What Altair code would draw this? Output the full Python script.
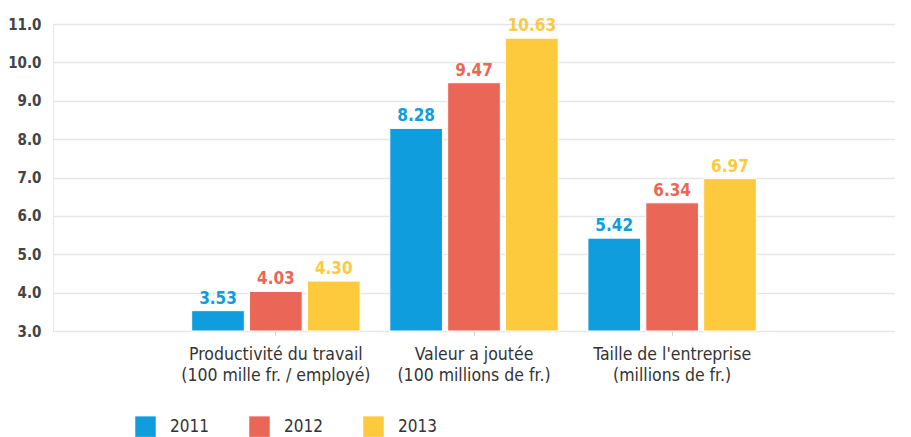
import altair as alt
import pandas as pd

categories = ["Productivité du travail|(100 mille fr. / employé)",
              "Valeur a joutée|(100 millions de fr.)",
              "Taille de l'entreprise|(millions de fr.)"]
years = ["2011", "2012", "2013"]
values_2011 = [3.53, 8.28, 5.42]
values_2012 = [4.03, 9.47, 6.34]
values_2013 = [4.30, 10.63, 6.97]
colors = ["#0f9ddd", "#ea6758", "#fdc93d"]
y_ticks = [3, 4, 5, 6, 7, 8, 9, 10, 11]

rows = []
for i, c in enumerate(categories):
    for y, vals in zip(years, [values_2011, values_2012, values_2013]):
        rows.append({"cat": c, "year": y, "value": vals[i], "label": f"{vals[i]:.2f}"})
df = pd.DataFrame(rows)

FONT = "DejaVu Sans Condensed, DejaVu Sans, sans-serif"

x = alt.X("cat:N", sort=categories, title=None,
          scale=alt.Scale(paddingOuter=0.7, paddingInner=0.15),
          axis=alt.Axis(labelAngle=0, labelExpr="split(datum.label, '|')",
                        labelFont=FONT, labelFontSize=17.5, labelColor="#333",
                        labelPadding=10, tickColor="#cccccc", tickSize=4,
                        labelLimit=400, domain=False, grid=False, labelLineHeight=21))
xo = alt.XOffset("year:N", scale=alt.Scale(paddingInner=0.09))
y = alt.Y("value:Q", title=None,
          scale=alt.Scale(domain=[3, 11], zero=False, nice=False),
          axis=alt.Axis(values=y_ticks, format=".1f", labelOverlap=False,
                        labelFont=FONT, labelFontSize=15, labelColor="#444",
                        labelFontWeight="bold", ticks=False, labelPadding=12,
                        domain=True, domainColor="#e6e6e6", gridColor="#e6e6e6",
                        gridWidth=1.5))
cscale = alt.Scale(domain=years, range=colors)
color = alt.Color("year:N", scale=cscale,
                  legend=alt.Legend(title=None, orient="none", legendX=82, legendY=392,
                                    direction="horizontal", symbolType="square",
                                    symbolSize=420, symbolStrokeWidth=0, symbolOpacity=1,
                                    labelFont=FONT, labelFontSize=17, labelColor="#333",
                                    labelOffset=14, columnPadding=40))

bars = alt.Chart(df).mark_bar(stroke="white", strokeWidth=1).encode(
    x=x, xOffset=xo, y=y, y2=alt.datum(3), color=color,
)

texts = alt.Chart(df).mark_text(dy=-12, fontSize=17, fontWeight="bold", font=FONT).encode(
    x=x, xOffset=xo, y=y, text="label:N",
    color=alt.Color("year:N", scale=cscale, legend=None),
)

chart = (bars + texts).properties(
    width=842, height=307,
    autosize=alt.AutoSizeParams(type="none"),
    padding={"left": 45, "top": 16, "right": 0, "bottom": 106},
).configure_view(strokeWidth=0, stroke="transparent").configure(background="white")

chart.save("out.html", embed_options={"renderer": "svg", "actions": False})
